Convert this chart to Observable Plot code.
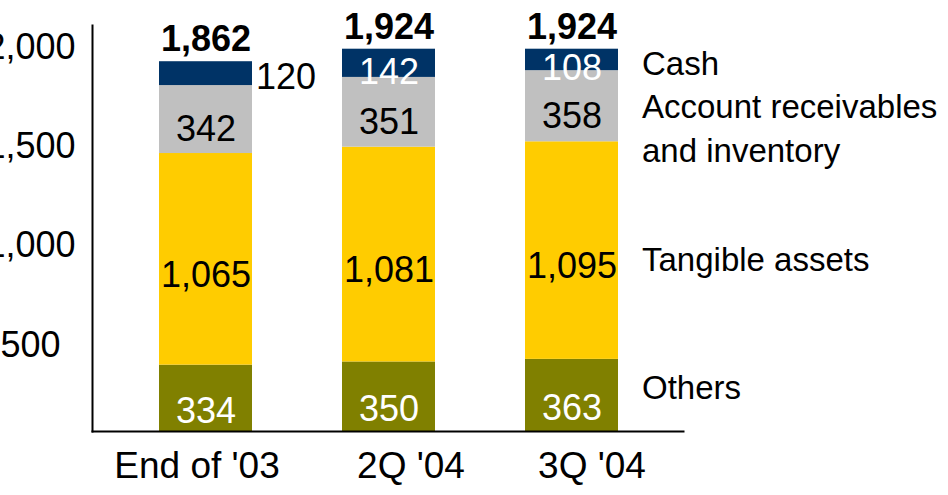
<!DOCTYPE html>
<html><head><meta charset="utf-8">
<script src="https://cdn.jsdelivr.net/npm/d3@7"></script>
<script src="https://cdn.jsdelivr.net/npm/@observablehq/plot@0.6"></script>
<style>
html,body{margin:0;padding:0;background:#fff;overflow:hidden;}
#chart svg{display:block;}
#chart svg text.wide{letter-spacing:1.6px;}
#chart svg text.legend{letter-spacing:0.5px;}
</style>
</head><body><div id="chart"></div>
<script>
// ---- data ----
const periods = ["End of '03", "2Q '04", "3Q '04"];
const seriesKeys = ["Others", "Tangible assets", "Account receivables\nand inventory", "Cash"];
const others = [334, 350, 363];
const tangible = [1065, 1081, 1095];
const receivables = [342, 351, 358];
const cash = [120, 142, 108];
const totals = [1862, 1924, 1924];
const yTicks = [500, 1000, 1500, 2000];

// ---- derived table (stack positions computed from values) ----
const seriesValues = [others, tangible, receivables, cash];
const rows = periods.flatMap((p, i) => {
  let acc = 0;
  return seriesKeys.map((s, k) => {
    const v = seriesValues[k][i];
    const r = {period: p, series: s, value: v, y1: acc, y2: acc + v, mid: acc + v / 2, idx: i};
    acc += v;
    return r;
  });
});
const totalRows = periods.map((p, i) => ({period: p, total: totals[i], top: d3.sum(seriesValues, a => a[i])}));
const colors = ["#808000", "#FFCC00", "#C0C0C0", "#003366"];
const fmt = d3.format(",");
const FONT = "'Liberation Sans', Arial, Helvetica, sans-serif";

const bySeries = s => rows.filter(d => d.series === s);
const lastPeriod = periods[periods.length - 1];

// per-series label styles
const labelStyle = {
  "Others": {fill: "white", dy: 13},
  "Tangible assets": {fill: "black", dy: 16},
  "Account receivables\nand inventory": {fill: "black", dy: 10},
  "Cash": {fill: "white", dy: 9}
};
const legendDy = {
  "Others": -10,
  "Tangible assets": 6,
  "Account receivables\nand inventory": 20,
  "Cash": 1
};
const categoryDx = [-9, 22, 20];

const marks = [
  Plot.rect(rows, {x: "period", y1: "y1", y2: "y2", fill: "series"}),
];
for (const s of seriesKeys) {
  const st = labelStyle[s];
  let data = bySeries(s);
  if (s === "Cash") {
    // first cash label sits outside the bar, to the right
    marks.push(Plot.text(data.filter(d => d.idx === 0), {
      x: "period", y: "mid", text: d => fmt(d.value), fill: "black",
      textAnchor: "start", dx: 50, dy: 4, fontSize: 36
    }));
  }
  marks.push(Plot.text(data.filter(d => !(s === "Cash" && d.idx === 0)), {
    x: "period", y: "mid", text: d => fmt(d.value), fill: st.fill, dy: st.dy, fontSize: 36
  }));
  // right-hand series label next to the last bar
  marks.push(Plot.text(data.filter(d => d.period === lastPeriod), {
    x: "period", y: "mid", text: () => s, fill: "black", textAnchor: "start",
    dx: 70, dy: legendDy[s], fontSize: 33, lineHeight: 1.33, className: "legend"
  }));
}
periods.forEach((p, i) => {
  marks.push(Plot.text([p], {x: d => d, text: d => d, frameAnchor: "bottom", dy: 46, dx: categoryDx[i], fontSize: 37, fill: "black", className: "wide"}));
});
marks.push(
  Plot.text(totalRows, {x: "period", y: "top", text: d => fmt(d.total), fontWeight: "bold", fontSize: 36, dy: -22, fill: "black"}),
  Plot.text(yTicks, {y: d => d, text: d => fmt(d), frameAnchor: "left", textAnchor: "middle", dx: -62, dy: 13, fontSize: 36, fill: "black"}),
  Plot.frame({anchor: "left", stroke: "black", strokeWidth: 2}),
  Plot.frame({anchor: "bottom", stroke: "black", strokeWidth: 2})
);

const chart = Plot.plot({
  width: 948,
  height: 495,
  marginLeft: 92,
  marginRight: 265,
  marginTop: 25,
  marginBottom: 64,
  style: {fontFamily: FONT, background: "white"},
  x: {domain: periods, range: [69, 709], padding: 0.49, axis: null},
  y: {domain: [0, 2000], range: [431, 33.6], axis: null},
  color: {domain: seriesKeys, range: colors},
  marks
});
document.getElementById("chart").appendChild(chart);
</script>
</body></html>
